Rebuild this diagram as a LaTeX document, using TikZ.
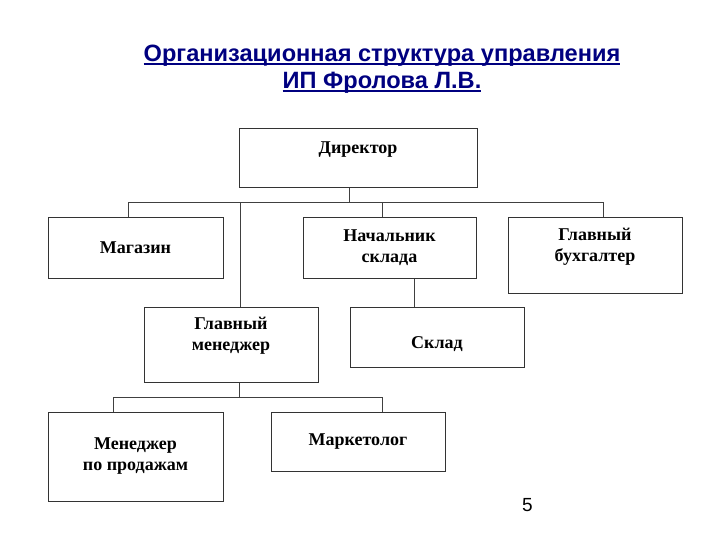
\documentclass[tikz,border=0pt]{standalone}
\usepackage{fontspec}
\setmainfont{Liberation Serif}
\newfontfamily\headfont{Liberation Sans}
\definecolor{titleblue}{RGB}{0,0,128}
\newcommand\titleline[1]{\setbox0\hbox{#1}\rlap{\rule[-3.5pt]{\wd0}{1.6pt}}\box0}

\begin{document}
\begin{tikzpicture}[x=1pt,y=-1pt,
    box/.style={draw=black!80,line width=1pt,inner sep=0pt,minimum width=174pt,minimum height=60pt,align=center,font=\fontsize{18}{21}\selectfont\bfseries},
    link/.style={draw=black!75,line width=1pt}]
  \useasboundingbox (0,0) rectangle (720,540);
  \node[font=\headfont\fontsize{23.6}{27.5}\selectfont\bfseries,text=titleblue,align=center,inner sep=0pt] (title) at (382,69) {\titleline{Организационная структура управления}\\\titleline{ИП Фролова Л.В.}};
  \node[box,minimum width=238pt,minimum height=59pt] (dir) at (358,158.5) {Директор\\\mbox{}};
  \node[box,minimum width=175pt] (shop) at (135.5,248) {Магазин};
  \node[box,minimum width=173pt] (whm) at (389.5,248) {Начальник\\склада};
  \node[box,minimum height=75pt] (acc) at (595,255.5) {Главный\\бухгалтер\\\mbox{}};
  \node[box,minimum height=75pt] (gm) at (231,344.5) {Главный\\менеджер\\\mbox{}};
  \node[box] (stock) at (437,337) {\raisebox{-7pt}[\height][\depth]{Склад}};
  \node[box,minimum width=175pt,minimum height=89pt] (sales) at (135.5,456.5) {Менеджер\\по продажам};
  \node[box,minimum height=59pt] (mkt) at (358,441.5) {Маркетолог};
  \node[font=\headfont\fontsize{19}{22}\selectfont] (page) at (527.5,505) {5};
  \coordinate (busL) at (128,203);
  \coordinate (busR) at (603,203);
  \coordinate (dirtap) at (349,203);
  \coordinate (whmtap) at (382,203);
  \coordinate (gmtap) at (240,203);
  \coordinate (stocktap) at (414,300);
  \coordinate (bus2L) at (113,397);
  \coordinate (bus2R) at (382,397);
  \coordinate (gmdrop) at (239,397);
  \draw[link] (dir.south -| dirtap) -- (dirtap);
  \draw[link] (shop.north -| busL) -- (busL) -- (busR) -- (acc.north -| busR);
  \draw[link] (whmtap) -- (whm.north -| whmtap);
  \draw[link] (gmtap) -- (gm.north -| gmtap);
  \draw[link] (whm.south -| stocktap) -- (stock.north -| stocktap);
  \draw[link] (gm.south -| gmdrop) -- (gmdrop);
  \draw[link] (sales.north -| bus2L) -- (bus2L) -- (bus2R) -- (mkt.north -| bus2R);
\end{tikzpicture}
\end{document}
